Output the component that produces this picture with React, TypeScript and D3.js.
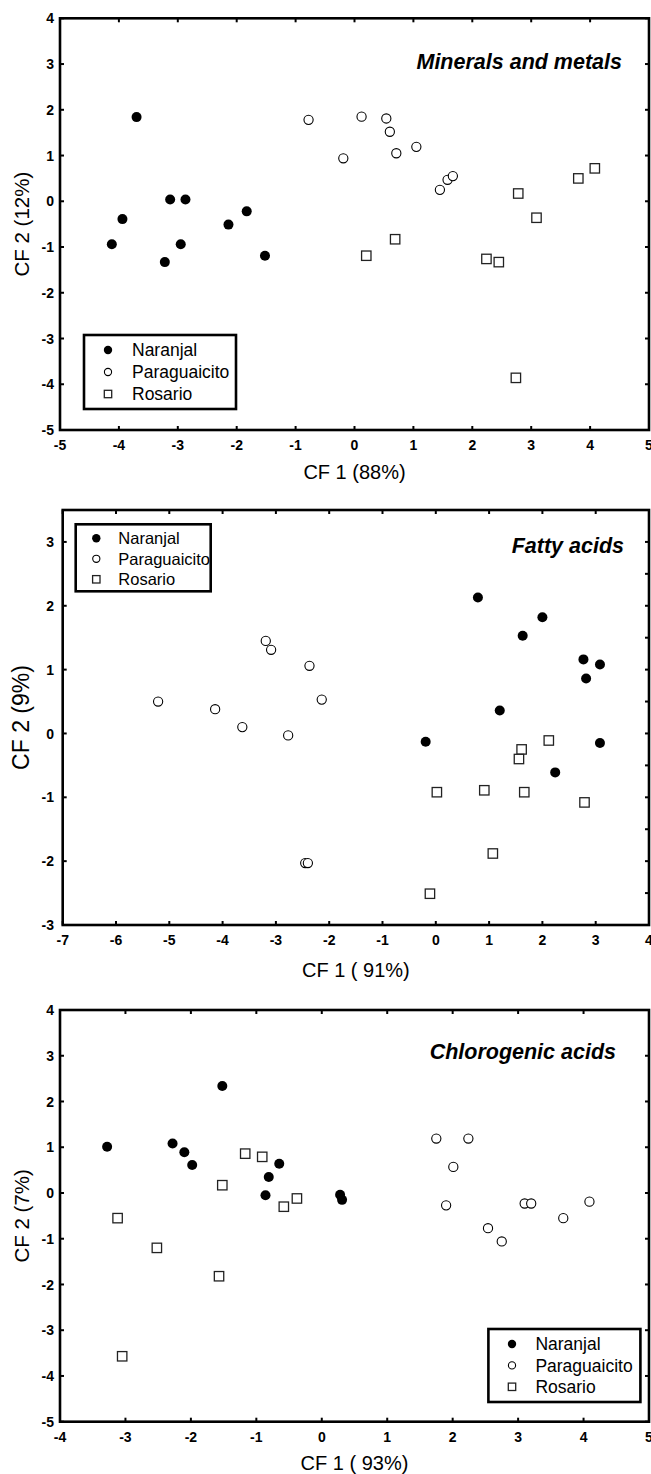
import React from 'react';
import * as d3 from 'd3';

const W = 651;
const H = 1474;
const FONT = 'Liberation Sans, Arial, Helvetica, sans-serif';

const groups = ['Naranjal', 'Paraguaicito', 'Rosario'];

// Minerals and metals (CF1, CF2)
const minNaranjal = [
  [-3.70, 1.84], [-3.13, 0.04], [-2.87, 0.04], [-3.94, -0.39], [-4.12, -0.94],
  [-2.95, -0.94], [-3.22, -1.33], [-2.14, -0.51], [-1.83, -0.22], [-1.52, -1.19],
];
const minParaguaicito = [
  [-0.78, 1.78], [0.12, 1.85], [0.54, 1.81], [0.60, 1.52], [1.05, 1.19],
  [-0.19, 0.94], [0.71, 1.05], [1.45, 0.25], [1.58, 0.47], [1.67, 0.55],
];
const minRosario = [
  [4.08, 0.72], [3.80, 0.50], [2.78, 0.17], [3.09, -0.36], [0.69, -0.83],
  [0.20, -1.19], [2.24, -1.26], [2.45, -1.33], [2.74, -3.86],
];

// Fatty acids
const fatNaranjal = [
  [0.79, 2.13], [2.00, 1.82], [1.63, 1.53], [2.77, 1.16], [3.08, 1.08],
  [2.82, 0.86], [1.20, 0.36], [-0.19, -0.13], [3.08, -0.15], [2.24, -0.61],
];
const fatParaguaicito = [
  [-3.19, 1.45], [-3.09, 1.31], [-2.37, 1.06], [-2.14, 0.53], [-5.21, 0.50],
  [-4.14, 0.38], [-3.63, 0.10], [-2.77, -0.03], [-2.45, -2.03], [-2.40, -2.03],
];
const fatRosario = [
  [2.12, -0.11], [1.61, -0.25], [1.56, -0.40], [0.02, -0.92], [0.91, -0.89],
  [1.66, -0.92], [2.79, -1.08], [1.07, -1.88], [-0.11, -2.51],
];

// Chlorogenic acids
const chlNaranjal = [
  [-1.52, 2.34], [-3.28, 1.01], [-2.28, 1.08], [-2.10, 0.89], [-1.98, 0.61],
  [-0.65, 0.64], [-0.81, 0.35], [-0.86, -0.05], [0.28, -0.04], [0.31, -0.15],
];
const chlParaguaicito = [
  [1.75, 1.19], [2.24, 1.19], [2.01, 0.57], [1.90, -0.27], [3.10, -0.23],
  [3.20, -0.23], [4.09, -0.19], [3.69, -0.55], [2.54, -0.77], [2.75, -1.06],
];
const chlRosario = [
  [-1.17, 0.86], [-0.91, 0.79], [-1.52, 0.17], [-0.38, -0.12], [-0.58, -0.30],
  [-3.12, -0.55], [-2.52, -1.20], [-1.57, -1.82], [-3.05, -3.57],
];

const minXTicks = [-5, -4, -3, -2, -1, 0, 1, 2, 3, 4, 5];
const minYTicks = [4, 3, 2, 1, 0, -1, -2, -3, -4, -5];
const fatXTicks = [-7, -6, -5, -4, -3, -2, -1, 0, 1, 2, 3, 4];
const fatYTicks = [3, 2, 1, 0, -1, -2, -3];
const fatYMinor = [3, 2.5, 2, 1.5, 1, 0.5, 0, -0.5, -1, -1.5, -2, -2.5];
const chlXTicks = [-4, -3, -2, -1, 0, 1, 2, 3, 4, 5];
const chlYTicks = [4, 3, 2, 1, 0, -1, -2, -3, -4, -5];

const panels = [
  {
    series: [minNaranjal, minParaguaicito, minRosario],
    xDomain: [-5, 5], yDomain: [-5, 4],
    left: 60, right: 649, top: 18.3, bottom: 430,
    xTicks: minXTicks, yTicks: minYTicks, rightTicks: minYTicks,
    title: 'Minerals and metals', titleRight: 27, titleTop: 50.5,
    xLabel: 'CF 1 (88%)', xLabelY: 479,
    yLabel: 'CF 2 (12%)', yLabelX: 22, yLabelSize: 20.5,
    legend: { x: 84, y: 335, w: 152, h: 74, size: 17.5, rowH: 22, first: 15, mx: 24, tx: 48 },
  },
  {
    series: [fatNaranjal, fatParaguaicito, fatRosario],
    xDomain: [-7, 4], yDomain: [-3, 3.5],
    left: 62.7, right: 649, top: 510, bottom: 925,
    xTicks: fatXTicks, yTicks: fatYTicks, rightTicks: fatYMinor,
    title: 'Fatty acids', titleRight: 25, titleTop: 42.5,
    xLabel: 'CF 1 ( 91%)', xLabelY: 977,
    yLabel: 'CF 2 (9%)', yLabelX: 21, yLabelSize: 23,
    legend: { x: 75.7, y: 524.3, w: 135, h: 67, size: 16.5, rowH: 20.5, first: 14, mx: 20.6, tx: 42.6 },
  },
  {
    series: [chlNaranjal, chlParaguaicito, chlRosario],
    xDomain: [-4, 5], yDomain: [-5, 4],
    left: 60, right: 649, top: 1010, bottom: 1421.7,
    xTicks: chlXTicks, yTicks: chlYTicks, rightTicks: chlYTicks,
    title: 'Chlorogenic acids', titleRight: 33, titleTop: 49,
    xLabel: 'CF 1 ( 93%)', xLabelY: 1470,
    yLabel: 'CF 2 (7%)', yLabelX: 21.5, yLabelSize: 20.5,
    legend: { x: 488.4, y: 1329, w: 152, h: 73, size: 17.5, rowH: 21.4, first: 15, mx: 23.6, tx: 47 },
  },
];

function Marker({ kind, cx, cy, s }: { kind: number; cx: number; cy: number; s: number }) {
  if (kind === 0) return <circle cx={cx} cy={cy} r={s} fill="#000" />;
  if (kind === 1) return <circle cx={cx} cy={cy} r={s - 0.4} fill="#fff" stroke="#000" strokeWidth={1.1} />;
  return (
    <rect x={cx - s + 0.3} y={cy - s + 0.3} width={(s - 0.3) * 2} height={(s - 0.3) * 2} fill="#fff" stroke="#222" strokeWidth={1.3} />
  );
}

function Panel({ p }: { p: any }) {
  const x = d3.scaleLinear().domain(p.xDomain).range([p.left, p.right]);
  const y = d3.scaleLinear().domain(p.yDomain).range([p.bottom, p.top]);
  const tl = 4;
  const lg = p.legend;
  return (
    <g>
      {/* ticks, pointing inward */}
      {p.xTicks.map((t: number) => (
        <g key={'x' + t}>
          <line x1={x(t)} x2={x(t)} y1={p.bottom} y2={p.bottom - tl} stroke="#000" strokeWidth={2} />
          <line x1={x(t)} x2={x(t)} y1={p.top} y2={p.top + tl} stroke="#000" strokeWidth={2} />
          <text x={x(t)} y={p.bottom + 20} textAnchor="middle" fontSize={14} fontWeight="bold">
            {t}
          </text>
        </g>
      ))}
      {p.yTicks.map((t: number) => (
        <g key={'y' + t}>
          <line x1={p.left} x2={p.left + tl} y1={y(t)} y2={y(t)} stroke="#000" strokeWidth={2} />
          <text x={54} y={y(t)} dy="0.36em" textAnchor="end" fontSize={14} fontWeight="bold">
            {t}
          </text>
        </g>
      ))}
      {p.rightTicks.map((t: number) => (
        <line key={'r' + t} x1={p.right} x2={p.right - tl} y1={y(t)} y2={y(t)} stroke="#000" strokeWidth={2} />
      ))}
      <rect x={p.left} y={p.top} width={p.right - p.left} height={p.bottom - p.top} fill="none" stroke="#000" strokeWidth={2.6} />

      {p.series.map((pts: number[][], gi: number) =>
        pts.map((d, i) => <Marker key={gi + '-' + i} kind={gi} cx={x(d[0])} cy={y(d[1])} s={5} />)
      )}

      <text x={p.right - p.titleRight} y={p.top + p.titleTop} textAnchor="end" fontSize={21.5} fontWeight="bold" fontStyle="italic">
        {p.title}
      </text>

      <g>
        <rect x={lg.x} y={lg.y} width={lg.w} height={lg.h} fill="#fff" stroke="#000" strokeWidth={2.6} />
        {groups.map((g, i) => (
          <g key={g}>
            <Marker kind={i} cx={lg.x + lg.mx} cy={lg.y + lg.first + i * lg.rowH} s={i === 0 ? 4.2 : 4} />
            <text x={lg.x + lg.tx} y={lg.y + lg.first + i * lg.rowH} dy="0.36em" fontSize={lg.size}>
              {g}
            </text>
          </g>
        ))}
      </g>

      <text x={(p.left + p.right) / 2} y={p.xLabelY} textAnchor="middle" fontSize={20}>
        {p.xLabel}
      </text>
      <text
        transform={`translate(${p.yLabelX},${(p.top + p.bottom) / 2}) rotate(-90)`}
        dy="0.36em"
        textAnchor="middle"
        fontSize={p.yLabelSize}
      >
        {p.yLabel}
      </text>
    </g>
  );
}

export default function App() {
  return (
    <svg
      xmlns="http://www.w3.org/2000/svg"
      width={W}
      height={H}
      viewBox={`0 0 ${W} ${H}`}
      style={{ position: 'absolute', left: 0, top: 0, background: '#fff' }}
      fontFamily={FONT}
    >
      <rect width={W} height={H} fill="#fff" />
      {panels.map((p, i) => (
        <Panel key={i} p={p} />
      ))}
    </svg>
  );
}
